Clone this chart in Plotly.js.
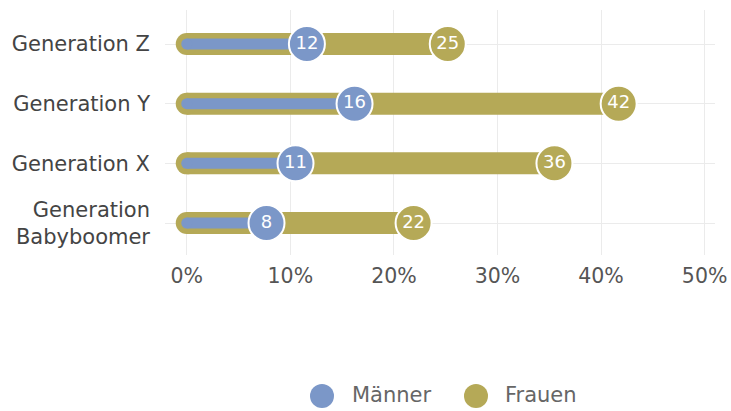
<!DOCTYPE html>
<html><head><meta charset="utf-8">
<script src="https://cdn.plot.ly/plotly-3.0.1.min.js"></script>
<style>html,body{margin:0;padding:0;background:#fff}#c{width:731px;height:411px}</style>
</head><body><div id="c"></div>
<script>
const categories = ["Generation<br>Babyboomer", "Generation X", "Generation Y", "Generation Z"];
const maenner = [7.7, 10.5, 16.2, 11.6];
const frauen = [21.9, 35.5, 41.7, 25.2];
const tickVals = [0, 10, 20, 30, 40, 50];
const seriesNames = ["Männer", "Frauen"];

const blue = "#7b97c8", olive = "#b5a957";
const FONT = "DejaVu Sans, sans-serif";
const traces = [];
categories.forEach((c, i) => {
  traces.push({x: [0, frauen[i]], y: [c, c], mode: "lines", line: {color: olive, width: 22}, showlegend: false, hoverinfo: "skip"});
});
traces.push({x: categories.map(() => 0), y: categories, mode: "markers", marker: {color: olive, size: 22}, showlegend: false, hoverinfo: "skip"});
categories.forEach((c, i) => {
  traces.push({x: [0, maenner[i]], y: [c, c], mode: "lines", line: {color: blue, width: 11}, showlegend: false, hoverinfo: "skip"});
});
traces.push({x: categories.map(() => 0), y: categories, mode: "markers", marker: {color: blue, size: 11}, showlegend: false, hoverinfo: "skip"});
traces.push({name: seriesNames[0], x: maenner, y: categories, mode: "markers+text", text: maenner.map(v => String(Math.round(v))),
  textposition: "middle center", textfont: {color: "#fff", size: 18, family: FONT},
  marker: {color: blue, size: 36, line: {color: "#fff", width: 2}}, showlegend: false});
traces.push({name: seriesNames[1], x: frauen, y: categories, mode: "markers+text", text: frauen.map(v => String(Math.round(v))),
  textposition: "middle center", textfont: {color: "#fff", size: 18, family: FONT},
  marker: {color: olive, size: 36, line: {color: "#fff", width: 2}}, showlegend: false});

// manual legend (paper coords; plot area 550x245 px)
const PW = 550, PH = 245;
const px = v => (v - 165) / PW, py = v => (255 - v) / PH;
const legendItems = [{name: seriesNames[0], color: blue, cx: 322, tx: 350}, {name: seriesNames[1], color: olive, cx: 476, tx: 503}];
const shapes = legendItems.map(it => ({type: "circle", xref: "paper", yref: "paper",
  x0: px(it.cx - 12), x1: px(it.cx + 12), y0: py(396 + 12), y1: py(396 - 12), fillcolor: it.color, line: {width: 0}}));
const annotations = legendItems.map(it => ({xref: "paper", yref: "paper", x: px(it.tx), y: py(395), xanchor: "left", yanchor: "middle",
  text: it.name, showarrow: false, font: {size: 21, color: "#666", family: FONT}}));

const layout = {
  width: 731, height: 411,
  margin: {l: 165, r: 16, t: 10, b: 156, autoexpand: false},
  paper_bgcolor: "#fff", plot_bgcolor: "#fff",
  font: {family: FONT, color: "#555"},
  xaxis: {range: [-2.1, 51], tickvals: tickVals, ticktext: tickVals.map(v => v + "%"), showgrid: true, gridcolor: "#ebebeb", gridwidth: 1,
    zeroline: false, showline: false, ticks: "", tickfont: {size: 20.5, color: "#555"}, ticklabelstandoff: 6, fixedrange: true},
  yaxis: {type: "category", categoryarray: categories, range: [-0.536, 3.57], showgrid: true, gridcolor: "#ebebeb", zeroline: false,
    showline: false, ticks: "", tickfont: {size: 21, color: "#444"}, ticklabelstandoff: 14, fixedrange: true},
  showlegend: false,
  shapes: shapes, annotations: annotations
};
Plotly.newPlot("c", traces, layout, {staticPlot: true, displayModeBar: false});
</script></body></html>
